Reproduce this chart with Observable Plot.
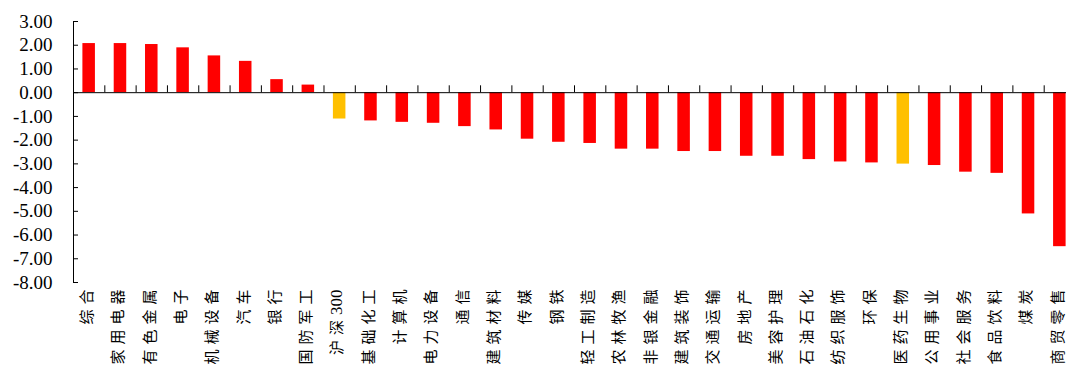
<!DOCTYPE html>
<html>
<head>
<meta charset="utf-8">
<script src="https://cdn.jsdelivr.net/npm/d3@7"></script>
<script src="https://cdn.jsdelivr.net/npm/@observablehq/plot@0.6"></script>
<style>
  html, body { margin: 0; padding: 0; background: #fff; }
  #chart svg { display: block; }
</style>
</head>
<body>
<div id="chart"></div>
<script>
const categories = ["综合","家用电器","有色金属","电子","机械设备","汽车","银行","国防军工","沪深300","基础化工","计算机","电力设备","通信","建筑材料","传媒","钢铁","轻工制造","农林牧渔","非银金融","建筑装饰","交通运输","房地产","美容护理","石油石化","纺织服饰","环保","医药生物","公用事业","社会服务","食品饮料","煤炭","商贸零售"];
const values = [2.07,2.07,2.03,1.89,1.55,1.32,0.55,0.32,-1.11,-1.19,-1.25,-1.29,-1.43,-1.57,-1.96,-2.09,-2.14,-2.38,-2.38,-2.48,-2.48,-2.68,-2.68,-2.82,-2.92,-2.96,-3.01,-3.07,-3.35,-3.40,-5.11,-6.49];
const highlighted = ["沪深300","医药生物"];
const yTicks = [3,2,1,0,-1,-2,-3,-4,-5,-6,-7,-8];

const data = categories.map((c, i) => ({cat: c, value: values[i]}));
const xRange = [73, 1075];
const step = (xRange[1] - xRange[0]) / categories.length;

const chart = Plot.plot({
  width: 1066,
  height: 376,
  marginTop: 21,
  marginBottom: 94,
  marginLeft: 73,
  marginRight: 0,
  style: {fontFamily: "'Liberation Serif', 'Noto Sans CJK SC', serif", color: "#000", background: "#fff"},
  x: {domain: categories, range: xRange, paddingInner: 0.6, paddingOuter: 0.3, round: false},
  y: {domain: [-8, 3]},
  marks: [
    Plot.barY(data, {x: "cat", y: "value", fill: d => highlighted.includes(d.cat) ? "#FFC000" : "#FF0000"}),
    Plot.ruleY([0], {stroke: "#000", strokeWidth: 1}),
    Plot.ruleX(categories, {x: d => d, dx: step / 2, y1: 0, y2: 0.29, stroke: "#000", strokeWidth: 1}),
    Plot.frame({anchor: "left", stroke: "#000"}),
    Plot.axisY({ticks: yTicks, tickFormat: d => d.toFixed(2), tickSize: -5, tickPadding: 26, fontSize: 19, stroke: "#000", label: null}),
    Plot.axisX({tickSize: 0, tickPadding: 7, tickRotate: -90, fontSize: 15, dx: -2, label: null})
  ]
});
document.getElementById("chart").appendChild(chart);

// Letter-spacing for CJK characters, tight digits (as in the reference)
d3.select(chart).selectAll('g[aria-label="x-axis tick label"] text').each(function() {
  const t = d3.select(this);
  const s = t.text();
  t.text(null);
  const parts = s.match(/[0-9]+|[^0-9]/g) || [];
  parts.forEach((p, i) => {
    const isDigit = /^[0-9]+$/.test(p);
    const last = i === parts.length - 1;
    t.append("tspan")
      .attr("font-size", isDigit ? 17 : null)
      .style("letter-spacing", last ? "0px" : (isDigit ? "0.5px" : "5px"))
      .text(p);
  });
});
</script>
</body>
</html>
